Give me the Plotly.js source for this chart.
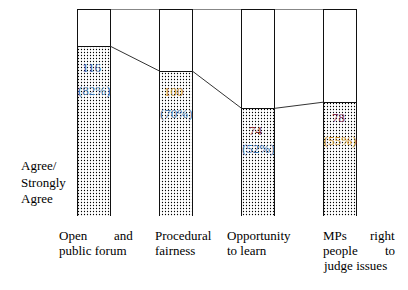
<!DOCTYPE html>
<html><head><meta charset="utf-8">
<script src="https://cdn.plot.ly/plotly-3.0.1.min.js"></script>
<style>html,body{margin:0;padding:0;background:#fff}#c{width:408px;height:290px}</style>
</head><body><div id="c"></div>
<script>
// ---- data ----
var categories = ["Open and public forum", "Procedural fairness", "Opportunity to learn", "MPs right people to judge issues"];
var catLines = [["Open and", "public forum"], ["Procedural", "fairness"], ["Opportunity", "to learn"], ["MPs right", "people to", "judge issues"]];
var counts = [116, 100, 74, 78];
var percents = [82, 70, 52, 55];
var legendLines = ["Agree/", "Strongly", "Agree"];

// ---- layout helpers ----
var W = 408, H = 290, L = 53, R = 27, T = 9, B = 74;
var PW = W - L - R;
function px2paper(px) { return (px - L) / PW; }
var xs = categories.map(function (_, i) { return i; });
var rest = percents.map(function (p) { return 100 - p; });
var totals = percents.map(function (p, i) { return p + rest[i]; });
var bw = 0.4;

function seriesLine(vals) {
  var lx = [], ly = [];
  for (var i = 0; i < vals.length - 1; i++) {
    lx.push(xs[i] + bw / 2, xs[i + 1] - bw / 2, null);
    ly.push(vals[i], vals[i + 1], null);
  }
  return { x: lx, y: ly };
}
var s1 = seriesLine(percents), s2 = seriesLine(totals);

var traces = [
  { type: 'bar', x: xs, y: percents, width: bw, name: 'Agree/Strongly Agree',
    marker: { color: '#ffffff', line: { color: '#111', width: 1 },
      pattern: { shape: '.', fgcolor: '#000', bgcolor: '#fff', size: 3, solidity: 0.14 } },
    hoverinfo: 'skip' },
  { type: 'bar', x: xs, y: rest, width: bw, name: 'Other',
    marker: { color: '#ffffff', line: { color: '#111', width: 1 } }, hoverinfo: 'skip' },
  { type: 'scatter', mode: 'lines', x: s1.x, y: s1.y, line: { color: '#333', width: 1 }, hoverinfo: 'skip' },
  { type: 'scatter', mode: 'lines', x: s2.x, y: s2.y, line: { color: '#111', width: 1 }, hoverinfo: 'skip' }
];

var font = '"Liberation Serif", "Times New Roman", serif';
var ann = [];
var numColors = ['#3a66b0', '#c88a20', '#8a3030', '#8a3050'];
var pctColors = ['#3a74b4', '#4a7aa8', '#3a74b4', '#c88a20'];
var numShift = [-21, -20, -22, -15];
var pctShift = [-44, -42, -40, -38];
for (var i = 0; i < xs.length; i++) {
  ann.push({ x: xs[i], y: percents[i], xref: 'x', yref: 'y', text: String(counts[i]), showarrow: false,
    yanchor: 'middle', yshift: numShift[i], xshift: -2, font: { family: font, size: 13, color: numColors[i] } });
  ann.push({ x: xs[i], y: percents[i], xref: 'x', yref: 'y', text: '(' + percents[i] + '%)', showarrow: false,
    yanchor: 'middle', yshift: pctShift[i], font: { family: font, size: 13, color: pctColors[i] } });
}
var colLeft = [57, 153, 225, 321];
var colRight = [135, 215, 295, 397];
var lineY = [-19, -34, -49];
catLines.forEach(function (lines, c) {
  lines.forEach(function (ln, k) {
    var words = ln.split(' ');
    var f = { family: font, size: 13, color: '#000' };
    if (words.length > 1 && k < lines.length - 1) {
      ann.push({ x: px2paper(colLeft[c]), y: 0, xref: 'paper', yref: 'paper', text: words[0], showarrow: false,
        xanchor: 'left', yanchor: 'middle', yshift: lineY[k], font: f });
      ann.push({ x: px2paper(colRight[c]), y: 0, xref: 'paper', yref: 'paper', text: words.slice(1).join(' '), showarrow: false,
        xanchor: 'right', yanchor: 'middle', yshift: lineY[k], font: f });
    } else {
      ann.push({ x: px2paper(colLeft[c]), y: 0, xref: 'paper', yref: 'paper', text: ln, showarrow: false,
        xanchor: 'left', yanchor: 'middle', yshift: lineY[k], font: f });
    }
  });
});
var legY = [165, 182, 198];
legendLines.forEach(function (t, k) {
  ann.push({ x: px2paper(19), y: 1, xref: 'paper', yref: 'paper', text: t, showarrow: false,
    xanchor: 'left', yanchor: 'middle', yshift: -(legY[k] - T), font: { family: font, size: 13, color: '#000' } });
});

var layout = {
  width: W, height: H, margin: { l: L, r: R, t: T, b: B, pad: 0 },
  paper_bgcolor: '#fff', plot_bgcolor: '#fff', barmode: 'stack', showlegend: false,
  xaxis: { range: [-0.5, 3.5], showticklabels: false, showgrid: false, zeroline: false, showline: false, ticks: '' },
  yaxis: { range: [0, 100], showticklabels: false, showgrid: false, zeroline: false, showline: false, ticks: '' },
  annotations: ann
};
Plotly.newPlot('c', traces, layout, { staticPlot: true, displayModeBar: false });
</script></body></html>
